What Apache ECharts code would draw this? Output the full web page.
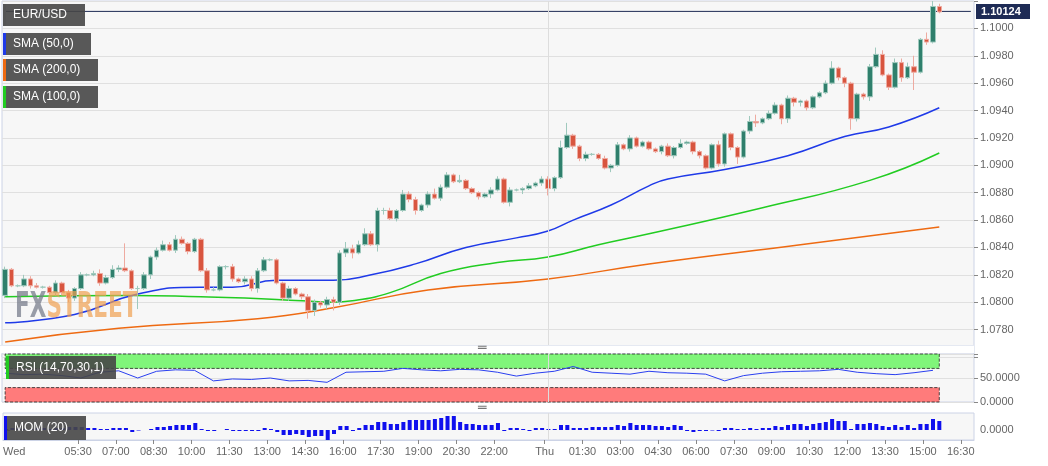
<!DOCTYPE html>
<html><head><meta charset="utf-8">
<script src="https://cdn.jsdelivr.net/npm/echarts@6/dist/echarts.min.js"></script>
<style>html,body{margin:0;padding:0;background:#fff}#c{width:1048px;height:466px}</style>
</head><body><div id="c"></div>
<script>
const CLOSE = [1.0824,1.0812,1.0812,1.0817,1.0812,1.0811,1.0811,1.0807,1.0814,1.0807,1.0803,1.0810,1.0820,1.0820,1.0821,1.0814,1.0818,1.0824,1.0825,1.0823,1.0810,1.0810,1.0820,1.0833,1.0838,1.0842,1.0838,1.0846,1.0843,1.0837,1.0846,1.0823,1.0809,1.0809,1.0826,1.0826,1.0817,1.0815,1.0817,1.0810,1.0823,1.0831,1.0831,1.0814,1.0803,1.0810,1.0806,1.0804,1.0794,1.0800,1.0798,1.0802,1.0800,
1.0836,1.0839,1.0836,1.0842,1.0850,1.0842,1.0867,1.0867,1.0861,1.0867,1.0879,1.0875,1.0867,1.0871,1.0879,1.0876,1.0884,1.0893,1.0888,1.0889,1.0883,1.0880,1.0877,1.0879,1.0882,1.0890,1.0873,1.0882,1.0882,1.0883,1.0885,1.0887,1.0890,1.0883,1.0891,1.0913,1.0922,1.0914,1.0905,1.0908,1.0908,1.0905,1.0898,1.0900,1.0915,1.0912,1.0920,1.0914,1.0917,1.0912,
1.0910,1.0914,1.0907,1.0913,1.0916,1.0917,1.0910,1.0907,1.0898,1.0915,1.0901,1.0923,1.0913,1.0906,1.0925,1.0932,1.0931,1.0934,1.0938,1.0944,1.0934,1.0949,1.0946,1.0947,1.0942,1.0950,1.0953,1.0960,1.0971,1.0964,1.0960,1.0934,1.0952,1.0950,1.0972,1.0981,1.0966,1.0957,1.0975,1.0964,1.0972,1.0968,1.0992,1.0990,1.1016,1.1012];
const FIRST_OPEN = 1.0805;
const UP_PIPS = [2,1,1,3,2,2,1,1,2,1,2,1,2,1,2,3,2,3,2,18,1,2,2,1,2,3,2,3,2,1,1,1,2,2,1,1,2,1,2,2,2,2,1,1,1,2,1,1,2,2,1,2,2,
2,5,3,3,4,2,2,2,2,1,3,2,2,1,2,4,2,2,1,4,1,1,1,1,2,2,1,2,1,1,2,1,2,2,1,5,9,1,1,2,1,1,2,1,2,1,2,1,1,1,
1,1,2,1,3,1,1,1,1,1,3,1,1,1,1,4,5,1,2,2,1,2,1,1,1,1,1,2,5,1,1,1,1,1,2,5,3,1,3,3,3,8,1,5,4,2];
const DN_PIPS = [2,1,1,1,2,1,1,1,2,2,3,2,1,1,1,2,1,1,2,1,1,15,1,3,2,1,1,2,1,2,1,1,2,1,1,2,2,1,2,2,3,1,1,1,2,2,1,2,6,4,2,3,6,
2,3,4,1,1,1,5,3,1,2,1,2,3,1,2,1,2,1,1,1,1,1,2,1,3,1,1,3,1,3,1,1,2,5,2,1,1,2,2,2,1,1,1,3,1,1,2,1,1,1,
1,2,1,2,1,1,2,2,1,1,2,2,2,5,1,2,3,1,1,1,4,3,3,3,2,1,1,1,1,2,3,8,2,2,3,1,1,2,1,3,1,13,1,2,1,1];
const SMA50 = [[0,1.0785],[11.4,1.0791],[21.4,1.0806],[30.9,1.0811],[36.1,1.0811],[43.1,1.0816],[51.5,1.0816],[57.8,1.0820],[64.6,1.0828],[72.5,1.0840],[81.1,1.0847],[85.8,1.0852],[89.5,1.0860],[96.3,1.0871],[102.2,1.0885],[105.3,1.0890],[113.7,1.0897],[124.3,1.0907],[133.4,1.0921],[140.2,1.0928],[148,1.0942]];
const SMA100 = [[0,1.0804],[20,1.0805],[31,1.0804],[38,1.0803],[47,1.0801],[52,1.0800],[55,1.0801],[61,1.0807],[69,1.0821],[78,1.0829],[86,1.0833],[94,1.0842],[102,1.0850],[120,1.0869],[137,1.0889],[148,1.0909]];
const SMA200 = [[0,1.0771],[18,1.0781],[40,1.0788],[52,1.0796],[67,1.0809],[86,1.0817],[102,1.0828],[126,1.0842],[148,1.0855]];
const RSI = [60,57,58,55,50,62,65,50,64,67,66,44,48,47,50,44,45,41,62,63,64,70,67,65,68,67,62,54,60,64,74,62,60,58,64,61,60,58,44,55,60,63,64,65,68,62,59,57,61,66];
const RSI_STEP = 3;
const MOM = [1,2,2,1,1,2,2,1,2,2,3,3,3,2,2,1,1,2,2,2,-2,-0.5,0,1,3,3,4,5,5,5,7,1,-1,-1,0,1,-1,-1,-1,-1,-1,2,1,-2,-5,-5,-4,-5,-7,-6,-6,-10,-4,4,4,-1,2,5,5,8,8,6,6,8,10,10,10,10,11,12,14,14,8,6,6,5,5,5,7,-1,2,2,
1,-1,2,2,1,1,5,5,2,2,2,3,3,3,3,5,4,7,5,5,5,4,4,3,5,4,-1,-2,-1,-1,-0.5,-1,2,2,1,1,2,1,2,2,4,3,5,6,6,4,6,7,8,11,9,9,1,6,6,7,6,4,3,5,3,5,2,6,6,11,9];
const TICK_LABELS = ['05:30','07:00','08:30','10:00','11:30','13:00','14:30','16:00','17:30','19:00','20:30','22:00','Thu','01:30','03:00','04:30','06:00','07:30','09:00','10:30','12:00','13:30','15:00','16:30'];
const TICK_POS = [11.4,17.4,23.4,29.4,35.4,41.4,47.4,53.4,59.4,65.4,71.4,77.4,85.4,91.4,97.4,103.4,109.4,115.4,121.4,127.4,133.4,139.4,145.4,151.4];
const LAST_PRICE = 1.10124;
const NCAT = 154;

const cats = Array.from({length:NCAT},(_,i)=>String(i));
const candles = CLOSE.map((c,i)=>{
  const o = i===0?FIRST_OPEN:CLOSE[i-1];
  return [o,c,+(Math.min(o,c)-DN_PIPS[i]*0.0001).toFixed(5),+(Math.max(o,c)+UP_PIPS[i]*0.0001).toFixed(5)];
});
const rsiData = RSI.map((v,i)=>[i*RSI_STEP,v]);
const lastIdx = CLOSE.length-1;
const font = 'Liberation Sans, Arial, sans-serif';
const labelMap = {}; TICK_POS.forEach((p,i)=>labelMap[p]=TICK_LABELS[i]);
const L=2,R=74;
const chart = echarts.init(document.getElementById('c'));
const catAxis = (g)=>({type:'category',gridIndex:g,data:cats,boundaryGap:true,axisLine:{show:false},axisTick:{show:false},axisLabel:{show:false},
  splitLine:{show:false}});
const vline = {symbol:'none',silent:true,label:{show:false},data:[{xAxis:'86',lineStyle:{color:'#dddddd',type:'solid',width:1}}]};
const box = (t,x,y,w,h,c)=>({type:'group',children:[
  {type:'rect',z:200,shape:{x:x,y:y,width:w,height:h},style:{fill:'rgba(70,70,70,0.9)'}},
  {type:'rect',z:201,shape:{x:x,y:y,width:3,height:h},style:{fill:c}},
  {type:'text',z:202,x:x+10,y:y+h/2-6,style:{text:t,fill:'#fff',font:'12px Liberation Sans'}}]});
chart.setOption({
  animation:false,
  textStyle:{fontFamily:font},
  grid:[
    {left:L,right:R,top:1,height:356,show:true,backgroundColor:'#f7f7f7',borderColor:'#ccd3e6'},
    {left:L,right:R,top:354,height:48,show:true,backgroundColor:'#f7f7f7',borderColor:'#ccd3e6'},
    {left:L,right:R,top:413,height:27,show:true,backgroundColor:'#f7f7f7',borderColor:'#ccd3e6'}
  ],
  xAxis:[catAxis(0),catAxis(1),catAxis(2),
    {type:'value',gridIndex:2,min:-0.5,max:NCAT-0.5,position:'bottom',
     axisLine:{show:true,lineStyle:{color:'#ccd3e6'}},
     axisTick:{show:true,customValues:TICK_POS,length:4,lineStyle:{color:'#888'}},
     axisLabel:{customValues:[-0.5].concat(TICK_POS),alignMinLabel:'left',color:'#666',fontSize:11,margin:6,
       formatter:v=>v<0?'Wed':(labelMap[v]||'')},
     splitLine:{show:false}}],
  yAxis:[
    {type:'value',gridIndex:0,position:'right',min:1.076,max:1.102,interval:0.002,
     axisLine:{show:false},axisTick:{show:true,length:4,lineStyle:{color:'#888'}},
     axisLabel:{color:'#666',fontSize:11,margin:6,formatter:v=>(v<1.0775||v>1.1005)?'':v.toFixed(4)},
     splitLine:{lineStyle:{color:'#e0e0e0'}}},
    {type:'value',gridIndex:1,position:'right',min:0,max:100,interval:50,
     axisLine:{show:false},axisTick:{show:true,length:4,lineStyle:{color:'#888'}},
     axisLabel:{color:'#666',fontSize:11,margin:6,formatter:v=>v===100?'':v.toFixed(4)},
     splitLine:{show:true,lineStyle:{color:'#e0e0e0'}}},
    {type:'value',gridIndex:2,position:'right',min:-10,max:17,
     axisLine:{show:false},axisTick:{show:true,length:4,customValues:[0],lineStyle:{color:'#888'}},
     axisLabel:{color:'#666',fontSize:11,margin:6,customValues:[0],formatter:v=>v.toFixed(4)},
     splitLine:{show:false}}
  ],
  series:[
    {type:'line',xAxisIndex:0,yAxisIndex:0,data:[['0',LAST_PRICE],[String(NCAT-1),LAST_PRICE]],symbol:'none',lineStyle:{color:'#1e2b55',width:1},z:1},
    {type:'candlestick',xAxisIndex:0,yAxisIndex:0,data:candles,barWidth:5,z:3,
     itemStyle:{color:'#2f7f6c',color0:'#d8553f',borderColor:'#9fc9bd',borderColor0:'#eeaaa0',borderWidth:1},
     markLine:vline},
    {type:'line',xAxisIndex:0,yAxisIndex:0,data:SMA200,smooth:true,symbol:'none',lineStyle:{color:'#ee6a12',width:1.5}},
    {type:'line',xAxisIndex:0,yAxisIndex:0,data:SMA100,smooth:true,symbol:'none',lineStyle:{color:'#22cc22',width:1.5}},
    {type:'line',xAxisIndex:0,yAxisIndex:0,data:SMA50,smooth:true,symbol:'none',lineStyle:{color:'#1f3ae8',width:1.5}},
    {type:'line',xAxisIndex:1,yAxisIndex:1,data:rsiData,symbol:'none',lineStyle:{color:'#2a3ff0',width:1},z:5,
     markArea:{silent:true,data:[
       [{xAxis:'0',yAxis:70,itemStyle:{color:'#80f57a',borderColor:'#222',borderWidth:0.8,borderType:'dashed'}},{xAxis:String(lastIdx),yAxis:100}],
       [{xAxis:'0',yAxis:0,itemStyle:{color:'#ff7b7b',borderColor:'#222',borderWidth:0.8,borderType:'dashed'}},{xAxis:String(lastIdx),yAxis:30}]]},
     markLine:vline},
    {type:'bar',xAxisIndex:2,yAxisIndex:2,data:MOM,barWidth:4,itemStyle:{color:'#1010ee'},markLine:vline}
  ],
  graphic:[
    {type:'rect',z:150,shape:{x:0,y:345,width:974,height:8},style:{fill:'#fff'}},
    {type:'rect',z:150,shape:{x:0,y:403,width:974,height:9},style:{fill:'#fff'}},
    {type:'rect',z:151,shape:{x:0,y:345,width:974,height:0.5},style:{fill:'#ccd3e6'}},
    {type:'text',z:152,x:478,y:341,style:{text:'═',fill:'#777',font:'14px DejaVu Sans'}},
    {type:'text',z:152,x:478,y:401,style:{text:'═',fill:'#777',font:'14px DejaVu Sans'}},
    {type:'text',z:50,x:15,y:290,scaleX:0.6,style:{rich:{a:{fill:'rgba(120,125,140,0.75)',font:'bold 36px DejaVu Sans'},b:{fill:'rgba(240,160,80,0.7)',font:'bold 36px DejaVu Sans'}},text:'{a|FX}{b|STREET}'}},
    box('EUR/USD',3,4,82,22,'#555'),
    box('SMA (50,0)',3,33,88,22,'#1f3ae8'),
    box('SMA (200,0)',3,59,95,22,'#ee6a12'),
    box('SMA (100,0)',3,86,95,22,'#22cc22'),
    box('RSI (14,70,30,1)',6,356,110,23,'#22cc22'),
    box('MOM (20)',4,416,82,24,'#1010ee'),
    {type:'rect',z:200,shape:{x:976,y:4,width:54,height:15},style:{fill:'#1e2b55'}},
    {type:'text',z:201,x:981,y:6,style:{text:'1.10124',fill:'#fff',font:'bold 11px Liberation Sans'}}
  ]
});
</script></body></html>
